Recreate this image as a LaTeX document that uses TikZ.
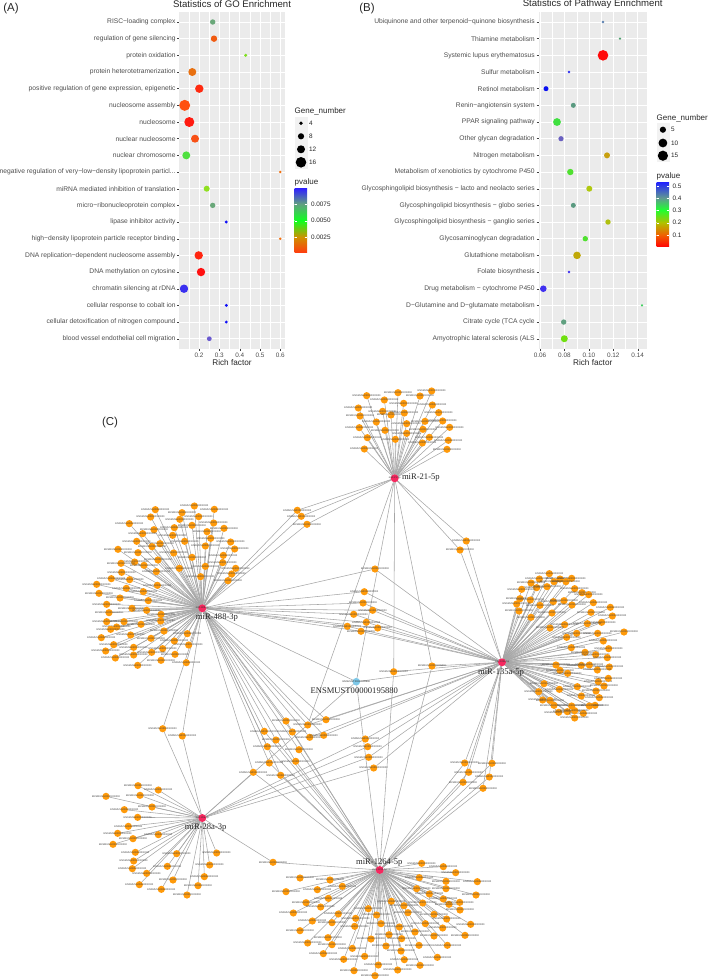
\documentclass[tikz,border=0pt]{standalone}
\usepackage{fontspec}
\setmainfont{Liberation Sans}
\newfontfamily\serifhub{Liberation Serif}
\usetikzlibrary{backgrounds}
\definecolor{axtxt}{HTML}{4D4D4D}
\definecolor{panel}{HTML}{EBEBEB}
\definecolor{keybg}{HTML}{F2F2F2}
\definecolor{edgec}{HTML}{A6A6A6}
\definecolor{genec}{HTML}{FF9A0A}
\definecolor{hubc}{HTML}{F5285F}
\definecolor{ensc}{HTML}{7EC8E8}
\newcommand{\fs}[1]{\fontsize{#1}{#1}\selectfont}
\newcommand{\genetxt}{ENSMUSG00000000000}
\tikzset{
  x=1pt,y=-1pt,
  txt/.style={inner sep=0pt,outer sep=0pt,text=black},
  rowlab/.style={txt,anchor=east,text=axtxt,font=\fs{6.7}},
  ticklab/.style={txt,text=axtxt,font=\fs{6.4}},
  leglab/.style={txt,anchor=west,text=black!85,font=\fs{6.4}},
  legtitle/.style={txt,anchor=west,text=black!85,font=\fs{8}},
  plottitle/.style={txt,text=black!85,font=\fs{9.6}},
  axtitle/.style={txt,text=black!85,font=\fs{8.2}},
  panelmark/.style={txt,text=black!85,font=\fs{11.5}},
  dot/.style={circle,inner sep=0pt,outer sep=0pt,minimum size=#1},
  gridmaj/.style={white,line width=.6pt},
  gridmin/.style={white,line width=.3pt},
  tickm/.style={black!75,line width=.4pt},
  edge/.style={edgec,line width=.55pt},
  gene/.style={circle,fill=genec,inner sep=0pt,outer sep=0pt,minimum size=7.2pt,
     label={[inner sep=0pt,font=\fs{2.5},text=black!75]center:\genetxt}},
  hub/.style={circle,fill=hubc,inner sep=0pt,outer sep=0pt,minimum size=8pt,
     label={[inner sep=0pt,font=\fs{2.5},text=black!80]center:#1}},
  ens/.style={circle,fill=ensc,inner sep=0pt,outer sep=0pt,minimum size=7.6pt,
     label={[inner sep=0pt,font=\fs{2.5},text=black!80]center:#1}},
  hublab/.style={txt,text=black!85,font=\serifhub\fs{8.6}},
}
\def\sharedgenes{
 297.3/510.3/{h21,h488}, 301.3/516.3/{h21,h488}, 307/524.3/{h21,h488},
 466.3/541/{h21,h135}, 460/550/{h21,h135},
 432/666/{h21,h135,h1264}, 393.7/671.7/{h21,h135,h1264},
 375/569/{h488,h135}, 364.3/591.7/{h488,h135}, 363/603/{h488,h135}, 372.7/610.3/{h488,h135},
 353.7/614.3/{h488,h135}, 366.3/622.3/{h488,h135}, 347.3/626.3/{h488,h135}, 377.7/628/{h488,h135}, 361/631.3/{h488,h135},
 286/721/{h488,h1264}, 307.7/725/{h21,h488,h135}, 326/719.7/{h488,h135}, 264.3/731.3/{h488,h1264},
 292.3/732/{h488,h1264}, 276/740/{h488,h1264}, 309.7/737.3/{h488,h135}, 323.7/735.3/{h488,h135},
 267.3/746.7/{h488,h1264}, 299/749.7/{h488,h1264}, 269.3/763/{h488,h1264}, 295.7/761.3/{h488,h1264},
 253.3/772.3/{h28,h488,h1264}, 280.7/775.3/{h488,h1264},
 365.3/739/{h28,h135}, 367.7/746.7/{h28,h135}, 368.7/757.3/{h28,h135}, 373.7/768/{h28,h135},
 464.7/763/{h135,h1264}, 492/763.3/{h135,h1264}, 468.7/772.3/{h135,h1264}, 489.3/777/{h135,h1264}, 463/782.3/{h135,h1264}, 483/788.3/{h135,h1264},
 162.7/728.7/{h488,h28}, 182.3/736/{h488,h28},
 273/862.3/{h28,h1264}}
\begin{document}
\begin{tikzpicture}
\useasboundingbox (0,0) rectangle (709,980);
% ------- panel marks and titles
\node[panelmark] (markA) at (11,9) {(A)};
\node[panelmark] (markB) at (367,9) {(B)};
\node[panelmark] (markC) at (110,423) {(C)};
\node[plottitle] (titleA) at (232,4) {Statistics of GO Enrichment};
\node[plottitle] (titleB) at (592.7,4) {Statistics of Pathway Enrichment};
% ------- plot A
\fill[panel] (179.3,12) rectangle (285,348.7);
\foreach \v in {188.8,209.2,229.5,249.8,270.1}{\draw[gridmin] (\v,12) -- (\v,348.7);}
\foreach \v/\t in {199/0.2,219.3/0.3,239.7/0.4,260/0.5,280.3/0.6}{
  \draw[gridmaj] (\v,12) -- (\v,348.7);
  \draw[tickm] (\v,348.7) -- (\v,350.7);
  \node[ticklab] at (\v,355) {\t};
}
\foreach \lab/\vx/\r/\c [count=\i from 0] in {
 {RISC−loading complex}/212.7/5.4/6AA87A,
 {regulation of gene silencing}/214/6.4/F05A10,
 {protein oxidation}/245.7/3.4/80E020,
 {protein heterotetramerization}/192.3/8/E87010,
 {positive regulation of gene expression, epigenetic}/199.3/8.4/FF2A10,
 {nucleosome assembly}/184.7/11/FF5010,
 {nucleosome}/189.3/10/FF1A10,
 {nuclear nucleosome}/195/8/F85015,
 {nuclear chromosome}/186.3/8/50E040,
 {negative regulation of very−low−density lipoprotein particl...}/280.3/2.8/F07010,
 {miRNA mediated inhibition of translation}/206.7/6/90E020,
 {micro−ribonucleoprotein complex}/212.7/5.4/6AA87A,
 {lipase inhibitor activity}/226.3/3.2/1010F8,
 {high−density lipoprotein particle receptor binding}/280.3/2.8/F07010,
 {DNA replication−dependent nucleosome assembly}/198.7/8.4/FF2510,
 {DNA methylation on cytosine}/201/8.4/FF1010,
 {chromatin silencing at rDNA}/184/8.4/3A30F0,
 {cellular response to cobalt ion}/226.3/3.2/1010F8,
 {cellular detoxification of nitrogen compound}/226.3/3.2/1010F8,
 {blood vessel endothelial cell migration}/209.3/4.8/6A5AD0}{
  \pgfmathsetmacro{\yy}{22+16.67*\i}
  \draw[gridmaj] (179.3,\yy) -- (285,\yy);
  \draw[tickm] (177.3,\yy) -- (179.3,\yy);
  \node[rowlab] (ra\i) at (175.5,\yy) {\lab};
  \definecolor{dotc}{HTML}{\c}
  \node[dot=\r pt,fill=dotc] (da\i) at (\vx,\yy) {};
}
\node[axtitle] (xa) at (232,363) {Rich factor};
\node[legtitle] (lga) at (294.7,111) {Gene\_number};
\foreach \yy/\r/\t [count=\i] in {123.3/3.8/4,136.3/6.2/8,149.3/8/12,162.3/10.6/16}{
  \fill[keybg] (294.7,\yy-6.5) rectangle (307.7,\yy+6.5);
  \node[dot=\r pt,fill=black] (ka\i) at (301,\yy) {};
  \node[leglab] at (309,\yy) {\t};
}
\node[legtitle] (lgp) at (294.7,182) {pvalue};
\foreach \ya/\yb/\ca/\cb in {188.3/204/3020FF/60A080,204/220.7/60A080/10FF20,220.7/237.3/10FF20/D09000,237.3/252.7/D09000/FF3C10}{
  \definecolor{ctop}{HTML}{\ca}\definecolor{cbot}{HTML}{\cb}
  \shade[top color=ctop,bottom color=cbot] (294.7,\ya) rectangle (307,\yb);
}
\foreach \yy/\t in {204/0.0075,220.7/0.0050,237.3/0.0025}{
  \node[leglab] at (311,\yy) {\t};
  \draw[white,line width=.3pt] (294.7,\yy) -- (297,\yy) (304.7,\yy) -- (307,\yy);
}
% ------- plot B
\fill[panel] (538.7,12) rectangle (646.7,348.7);
\foreach \v in {552.2,576.7,601.1,625.5}{\draw[gridmin] (\v,12) -- (\v,348.7);}
\foreach \v/\t in {540/0.06,564.4/0.08,588.9/0.10,613.3/0.12,637.7/0.14}{
  \draw[gridmaj] (\v,12) -- (\v,348.7);
  \draw[tickm] (\v,348.7) -- (\v,350.7);
  \node[ticklab] at (\v,355) {\t};
}
\foreach \lab/\vx/\r/\c [count=\i from 0] in {
 {Ubiquinone and other terpenoid−quinone biosynthesis}/603/2.6/5A80B0,
 {Thiamine metabolism}/620/2.6/50A070,
 {Systemic lupus erythematosus}/603/10.6/FF0A0A,
 {Sulfur metabolism}/569/2.8/3030F0,
 {Retinol metabolism}/546/5/0A10F0,
 {Renin−angiotensin system}/573.3/5/5A9A80,
 {PPAR signaling pathway}/557/7.8/40E040,
 {Other glycan degradation}/561/5.2/6A60C0,
 {Nitrogen metabolism}/607/6/C8A010,
 {Metabolism of xenobiotics by cytochrome P450}/570.3/6.4/50E030,
 {Glycosphingolipid biosynthesis − lacto and neolacto series}/589.3/6/B0C810,
 {Glycosphingolipid biosynthesis − globo series}/573.3/5/5A9A80,
 {Glycosphingolipid biosynthesis − ganglio series}/608/5.4/B0C010,
 {Glycosaminoglycan degradation}/585.3/5.4/50E030,
 {Glutathione metabolism}/577/7.6/C0A808,
 {Folate biosynthesis}/569/2.8/4030F0,
 {Drug metabolism − cytochrome P450}/543.3/6.6/4030F0,
 {D−Glutamine and D−glutamate metabolism}/642/2.4/40D060,
 {Citrate cycle (TCA cycle}/563.7/5.4/60A080,
 {Amyotrophic lateral sclerosis (ALS}/564.3/7/70E010}{
  \pgfmathsetmacro{\yy}{22+16.67*\i}
  \draw[gridmaj] (538.7,\yy) -- (646.7,\yy);
  \draw[tickm] (536.7,\yy) -- (538.7,\yy);
  \node[rowlab] (rb\i) at (534.7,\yy) {\lab};
  \definecolor{dotc}{HTML}{\c}
  \node[dot=\r pt,fill=dotc] (db\i) at (\vx,\yy) {};
}
\node[axtitle] (xb) at (592.7,363) {Rich factor};
\node[legtitle] (lgb) at (656.7,118) {Gene\_number};
\foreach \yy/\r/\t [count=\i] in {129.7/6.2/5,143/8.8/10,155.7/10.2/15}{
  \fill[keybg] (656.7,\yy-6.6) rectangle (669.5,\yy+6.6);
  \node[dot=\r pt,fill=black] (kb\i) at (662.9,\yy) {};
  \node[leglab] at (671,\yy) {\t};
}
\node[legtitle] (lgq) at (656.7,176) {pvalue};
\foreach \ya/\yb/\ca/\cb in {182/198/2020FF/609A90,198/210/609A90/20FF30,210/222.7/20FF30/B0C000,222.7/235/B0C000/F06000,235/246.7/F06000/FF0505}{
  \definecolor{ctop}{HTML}{\ca}\definecolor{cbot}{HTML}{\cb}
  \shade[top color=ctop,bottom color=cbot] (656.7,\ya) rectangle (669,\yb);
}
\foreach \yy/\t in {186/0.5,198/0.4,210/0.3,222.7/0.2,235/0.1}{
  \node[leglab] at (672.5,\yy) {\t};
  \draw[white,line width=.3pt] (656.7,\yy) -- (659,\yy) (666.7,\yy) -- (669,\yy);
}
% ------- network: hubs
\node[hub=miR-21-5p] (h21) at (394.7,478.3) {};
\node[hub=miR-488-3p] (h488) at (202.3,608.3) {};
\node[hub=miR-135a-5p] (h135) at (502,662.3) {};
\node[hub=miR-28a-3p] (h28) at (202.3,818) {};
\node[hub=miR-1264-5p] (h1264) at (379.7,870) {};
\node[ens=ENSMUST00000195880] (hens) at (356.3,681.7) {};
% ------- genes shared by several hubs
\foreach \x/\y/\hubs [count=\i] in \sharedgenes {
  \node[gene] (s\i) at (\x,\y) {};
}
% ------- genes of miR-21-5p
\foreach \x/\y [count=\i] in {80/47,174/38,275/33,240/48,133/60,191/70,277/75,55/84,128/94,153/105,193/99,296/98,60/108,109/126,255/124,308/123,200/131,58/143,135/151,249/148,329/142,200/160,268/172,82/173,166/178,247/189,325/181,73/207,321/208}{
  \node[gene] (pa\i) at ({340+\x/3},{380+\y/3}) {};
  \xdef\na{\i}
}
% ------- genes of miR-488-3p
\foreach \x/\y [count=\i] in {403/378,463/388,286/389,366/398,272/411,416/410,359/418,208/431,396/436,461/429,343/443,492/445,282/449,441/455,248/461,338/466,452/475,230/484,374/484,512/486,300/491,276/500,436/498,174/508,524/507,234/518,341/519,490/526,396/532,294/540,224/546,488/548,183/550,252/556,436/559,358/565,527/565,289/575,185/577,515/582,422/590,154/596,209/599,504/602,110/613,292/616,199/625,117/640,250/635,180/654,265/662,140/673,216/685,260/691,147/698,303/703,140/725,192/725,302/723,243/733,170/741,152/748,312/753,382/761,212/765,273/775,124/773,343/783,161/794,386/795,221/802,308/806,275/817,137/813,221/825,345/823,166/834,303/841,379/848,233/856}{
  \node[gene] (pb\i) at ({60+\x/3},{380+\y/3}) {};
  \xdef\nb{\i}
}
% ------- genes of miR-135a-5p
\foreach \x/\y [count=\i] in {208/41,178/57,240/57,275/55,222/65,258/65,153/69,170/83,201/80,125/88,284/86,306/98,326/104,120/116,151/120,220/125,252/122,340/128,110/132,180/136,276/135,117/153,153/172,216/159,333/157,391/142,397/168,365/187,322/191,254/194,210/204,353/220,432/216,290/220,260/232,370/243,274/263,386/266,315/277,347/284,382/293,228/315,304/316,328/315,388/321,240/331,352/330,263/340,192/371,355/365,385/355,372/378,292/380,238/388,176/395,348/393,358/413,304/408,188/420,210/421,222/436,345/436,328/438,275/438,236/457,262/455,310/460,284/452,284/474}{
  \node[gene] (pc\i) at ({480+\x/3},{560+\y/3}) {};
  \xdef\nc{\i}
}
% ------- genes of miR-28a-3p
\foreach \x/\y [count=\i] in {144/317,205/330,48/349,150/346,186/381,103/389,143/412,115/439,205/464,83/460,129/476,69/493,136/517,260/521,380/519,131/543,232/559,359/555,127/566,170/580,343/590,249/600,148/614,324/617,214/628,291/645}{
  \node[gene] (pd\i) at ({90+\x/3},{680+\y/3}) {};
  \xdef\nd{\i}
}
% ------- genes of miR-1264-5p
\foreach \x/\y [count=\i] in {545/70,610/80,647/98,180/114,270/120,538/113,618/124,712/125,307/139,232/149,138/155,530/146,618/146,708/165,265/175,198/188,568/162,610/177,627/193,659/187,242/201,454/184,548/189,660/210,160/219,492/197,385/206,295/222,410/225,504/218,582/223,620/237,217/243,276/248,347/235,344/259,423/251,556/251,692/253,478/261,608/264,180/272,525/276,264/293,447/284,582/288,485/296,393/297,675/286,203/309,276/314,537/316,438/318,622/316,337/325,483/333,250/341,374/349,311/358,592/352,493/359,540/376,415/375,473/390,342/392,405/407}{
  \node[gene] (pe\i) at ({240+\x/3},{840+\y/3}) {};
  \xdef\ne{\i}
}
% ------- all connectors, under the nodes
\begin{pgfonlayer}{background}
\foreach \h in {h21,h488,h135,h28,h1264}{\draw[edge] (hens) -- (\h);}
\foreach \x/\y/\hubs [count=\i] in \sharedgenes {
  \foreach \h in \hubs {\draw[edge] (s\i) -- (\h);}
}
\foreach \i in {1,...,\na}{\draw[edge] (pa\i) -- (h21);}
\foreach \i in {1,...,\nb}{\draw[edge] (pb\i) -- (h488);}
\foreach \i in {1,...,\nc}{\draw[edge] (pc\i) -- (h135);}
\foreach \i in {1,...,\nd}{\draw[edge] (pd\i) -- (h28);}
\foreach \i in {1,...,\ne}{\draw[edge] (pe\i) -- (h1264);}
\end{pgfonlayer}
% ------- hub captions
\node[hublab,anchor=west] (c21) at (402,478) {miR-21-5p};
\node[hublab] (c488) at (217,618) {miR-488-3p};
\node[hublab] (c135) at (501,672.7) {miR-135a-5p};
\node[hublab] (cens) at (354.3,691) {ENSMUST00000195880};
\node[hublab] (c28) at (205.7,827.7) {miR-28a-3p};
\node[hublab] (c1264) at (379.3,862.3) {miR-1264-5p};
\end{tikzpicture}
\end{document}
